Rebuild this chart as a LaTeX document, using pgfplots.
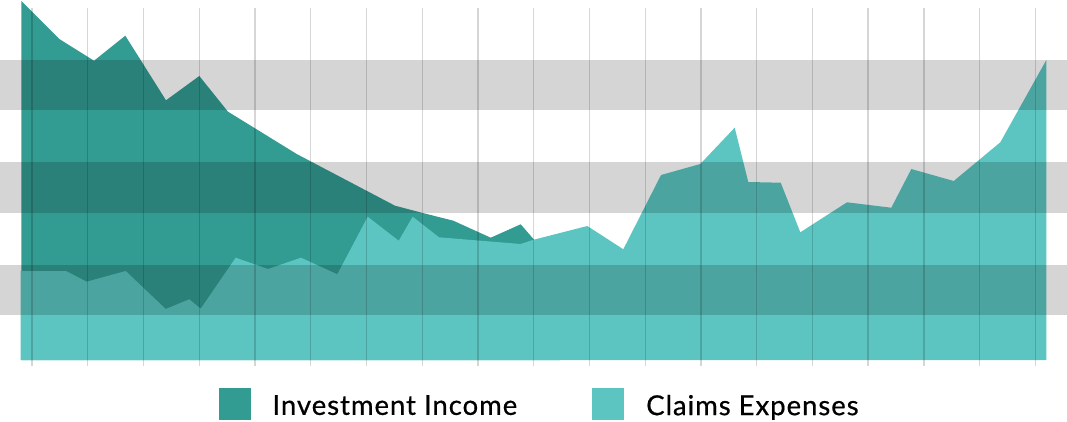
\documentclass[border=0pt]{standalone}
\usepackage{fontspec}
\setmainfont{Lato}
\newfontfamily\legendfont{Lato}[LetterSpace=3.5, FakeBold=0.6]
\usepackage{pgfplots}
\pgfplotsset{compat=1.18}
\definecolor{income}{HTML}{329B92}
\definecolor{claims}{HTML}{5CC5C1}

\begin{document}
\begin{tikzpicture}
\begin{axis}[
  scale only axis, width=1067pt, height=358pt,
  xmin=0, xmax=1067, ymin=-6, ymax=352,
  clip=false, axis on top,
  axis line style={draw=none},
  major tick length=0pt,
  xtick={32,87.74,143.48,199.22,254.96,310.7,366.44,422.18,477.92,533.66,
         589.4,645.14,700.88,756.62,812.36,868.1,923.84,979.58,1035.32},
  ytick={70,172.5,275},
  xticklabels={}, yticklabels={},
  xmajorgrids, ymajorgrids,
  major x grid style={black, opacity=0.16, line width=1.3pt},
  major y grid style={black, opacity=0.165, line width=50.3pt},
  legend columns=2,
  legend style={at={(axis cs:218.3,-43.5)}, anchor=west, draw=none, fill=none,
    inner sep=0pt, font=\legendfont\fontsize{27.5pt}{33pt}\selectfont,
    nodes={inner sep=0pt, text depth=0pt},
    cells={anchor=west},
    /tikz/every odd column/.append style={column sep=22pt},
    /tikz/every even column/.append style={column sep=75pt}},
  legend image code/.code={\fill[#1] (0pt,-14.5pt) rectangle (32pt,17.5pt);},
]
% Investment Income (drawn first, partly covered)
\addplot[draw=none, fill=income] coordinates {
  (21.3,359) (59.3,321) (94,299.3) (125.3,324.3) (166,259.7) (199.3,284)
  (228,248.3) (296.7,206) (395,154.3) (421.7,147.3) (453.3,139.3)
  (490.7,122.3) (520.7,135.7) (534.3,120) (560,105)
} \closedcycle;
% Claims Expenses
\addplot[draw=none, fill=claims] coordinates {
  (20.7,89) (66,89) (86.7,78.3) (125.7,89) (165.7,51) (189.3,60.7)
  (200.7,51.3) (235.7,102.3) (268,91) (301,102.3) (337.3,85.7)
  (367.7,143.3) (398.7,119.3) (412.7,143.3) (439,122.7) (520.7,116)
  (532.7,120) (587.3,134) (623.3,110.7) (661,185) (700.3,196)
  (734.7,232.3) (748.3,178) (780.7,177.3) (800.3,127.7) (847,157.7)
  (891.3,152.3) (911.3,191) (953.7,179) (1000.3,217.7) (1046.3,300)
} \closedcycle;
\legend{Investment Income, Claims Expenses}
\end{axis}
\pgfresetboundingbox
\path (current axis.south west) ++(0pt,-55pt) rectangle ++(1067pt,421pt);
\end{tikzpicture}
\end{document}
